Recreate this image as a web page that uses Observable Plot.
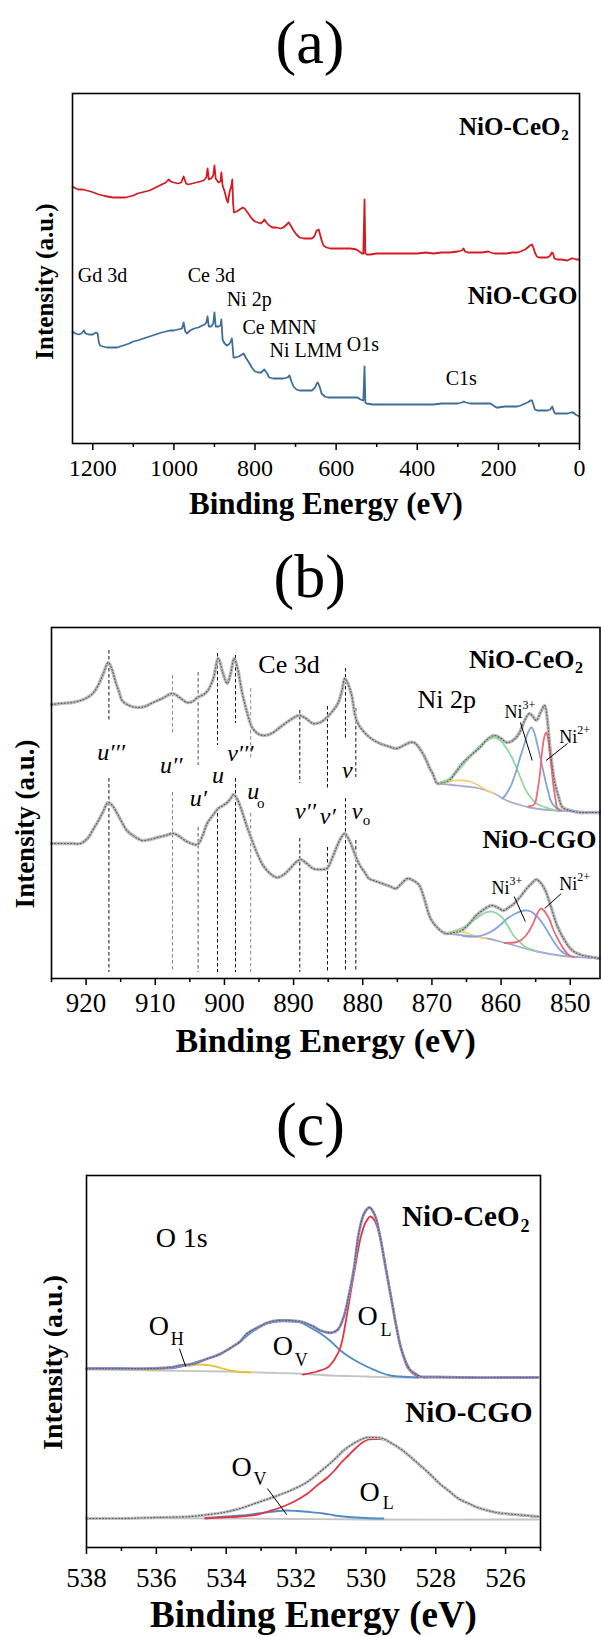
<!DOCTYPE html>
<html><head><meta charset="utf-8">
<script src="https://cdn.jsdelivr.net/npm/d3@7"></script>
<script src="https://cdn.jsdelivr.net/npm/@observablehq/plot@0.6"></script>
<style>
body{margin:0;background:#fff;}
#page{position:relative;width:601px;height:1637px;overflow:hidden;background:#fff;}
</style></head><body><div id="page"></div>
<script>
const SERIF = '"Liberation Serif","Times New Roman",serif';

// ================= (a) survey spectra =================
const surveyMajor = [1200, 1000, 800, 600, 400, 200, 0];
const surveyMinor = [1100, 900, 700, 500, 300, 100];
const surveyCeO2 = [[1250,257],[1242,255],[1235,254],[1225,254],[1215,253],[1205,252],[1198,251],[1185,249],[1175,248],[1164,247],[1150,246],[1132,246],[1120,246],[1110,247],[1100,248],[1090,250],[1080,251],[1070,252],[1060,253],[1050,255],[1040,257],[1030,259],[1020,261],[1013,264],[1008,262],[1000,261],[990,260],[982,261],[976,267],[970,260],[965,259],[955,260],[945,261],[935,262],[927,263],[920,266],[917,275],[914,264],[908,265],[903,268],[900,278],[897,265],[890,261],[885,262],[883,271],[880,258],[875,252],[870,244],[867,241],[863,251],[858,258],[856,264],[854,240],[852,231],[845,232],[838,234],[830,236],[826,235],[820,232],[815,229],[808,225],[800,222],[793,221],[786,220],[780,222],[777,224],[772,221],[765,218],[757,216],[747,216],[737,215],[730,216],[722,219],[717,221],[712,218],[705,213],[698,209],[690,206],[680,205],[670,205],[660,205],[654,207],[648,213],[643,214],[639,208],[635,202],[631,198],[624,196],[614,195],[600,195],[580,195],[565,195],[550,194],[543,192],[536,190],[533,190],[530,244],[528,190],[524,189],[515,189],[500,190],[483,190],[460,190],[440,190],[420,190],[400,190],[380,191],[360,190],[340,191],[320,191],[300,192],[290,193],[286,195],[282,192],[276,191],[260,191],[240,191],[225,192],[219,191],[210,190],[200,190],[180,190],[165,191],[153,191],[145,192],[140,193],[134,194],[128,196],[122,198],[117,199],[113,195],[110,191],[105,187],[100,186],[90,186],[79,186],[72,188],[68,191],[65,190],[62,185],[55,184],[45,184],[30,183],[20,185],[15,185],[8,184],[3,184],[0,184]];
const surveyCGO = [[1250,112],[1243,110],[1235,109],[1228,110],[1222,113],[1218,110],[1210,109],[1200,109],[1192,111],[1188,110],[1185,101],[1182,98],[1175,97],[1165,96],[1150,96],[1140,96],[1125,98],[1110,100],[1100,102],[1090,103],[1075,105],[1060,107],[1045,109],[1030,111],[1020,112],[1010,113],[1000,113],[990,114],[980,115],[976,121],[972,112],[968,110],[960,113],[950,115],[940,116],[930,118],[924,119],[920,121],[917,127],[914,117],[908,117],[903,120],[900,131],[897,117],[890,117],[885,118],[883,124],[880,104],[875,100],[869,98],[865,99],[861,101],[857,105],[855,96],[853,86],[848,86],[840,87],[832,89],[828,90],[823,86],[815,81],[808,76],[800,72],[792,71],[785,71],[777,74],[770,70],[765,66],[755,65],[740,65],[730,65],[720,66],[715,68],[710,62],[705,57],[698,54],[690,53],[675,53],[660,53],[652,56],[648,60],[645,61],[640,56],[636,50],[628,47],[620,46],[600,46],[580,46],[560,46],[547,46],[540,44],[533,43],[530,77],[528,41],[525,40],[510,39],[500,39],[480,39],[460,39],[440,39],[420,39],[400,39],[380,39],[360,39],[340,40],[320,40],[300,40],[290,41],[285,42],[280,41],[270,40],[250,40],[230,40],[220,40],[212,38],[205,36],[200,36],[185,37],[170,37],[153,37],[145,38],[140,39],[134,40],[128,41],[121,43],[117,43],[113,38],[110,34],[104,33],[90,33],[79,33],[72,34],[67,37],[63,32],[60,30],[50,30],[40,30],[30,30],[20,31],[15,31],[10,29],[5,28],[0,27]];
const surveyPeakLabels = [
  {t:"Gd 3d", e:1237, i:162}, {t:"Ce 3d", e:966, i:162}, {t:"Ni 2p", e:870, i:138},
  {t:"Ce MNN", e:831, i:110}, {t:"Ni LMM", e:764, i:87}, {t:"O1s", e:574, i:93}, {t:"C1s", e:330, i:59}
];
const surveySampleLabels = [{t:"NiO-CeO", e:47, i:309}, {t:"NiO-CGO", e:5, i:140}];
const surveySampleSubs = [{t:"2", e:45, i:304}];

// ================= (b) Ce 3d + Ni 2p =================
const ceMajor = [920, 910, 900, 890, 880, 870, 860, 850];
const ceMinor = [925, 915, 905, 895, 885, 875, 865, 855];
const ceCeO2 = [[925,274],[923.7,275],[922,276],[920.8,278],[919.8,281],[918.9,286],[918.2,294],[917.5,305],[916.8,316],[916.2,308],[915.8,298],[915.2,286],[914.8,278],[913.8,273],[912.6,271],[911.5,272],[910.3,276],[909,280],[907.5,285],[906.5,281],[905.4,276],[904.6,277],[903.9,281],[903,284],[902.4,288],[901.6,300],[900.9,320],[900.2,305],[899.6,295],[899.1,305],[898.6,320],[898.1,310],[897.5,288],[896.8,268],[896.0,251],[895.2,245],[894.4,243],[893.2,245],[892.0,251],[890.6,258],[889.2,263],[888.2,260],[887.2,255],[886.2,256],[885.2,261],[884.4,267],[883.6,275],[883.0,288],[882.6,300],[882.1,294],[881.6,283],[880.9,258],[880.0,248],[878.8,240],[877.5,235],[876.2,232],[875.1,230],[874.1,233],[873.2,236],[872.6,236],[872.1,233],[871.4,226],[870.8,218],[870.3,210],[869.9,205],[869.2,195],[868.4,196],[867.5,198],[866.6,206],[865.6,215],[864.4,223],[863.1,231],[862.0,239],[861.0,243],[860.0,240],[859.2,236],[858.3,238],[857.4,245],[856.6,258],[855.9,265],[855.4,262],[854.9,258],[854.3,266],[853.7,273],[853.3,258],[853.0,235],[852.6,212],[852.3,198],[851.7,182],[851.1,171],[850.0,168],[848.7,166],[847,166],[845.7,166]];
const ceCGO = [[925,135],[923.7,135],[922,135],[920.8,135],[919.8,140],[918.9,150],[918.2,158],[917.6,166],[916.8,176],[916.1,172],[915.5,165],[914.8,156],[914.1,148],[913,142],[911.9,138],[910.8,139],[909.7,141],[908.5,143],[907.4,145],[906.5,142],[905.7,138],[904.8,135],[903.9,134],[903.2,142],[902.5,155],[901.7,163],[900.9,170],[900.2,173],[899.6,176],[899.1,180],[898.7,184],[898.2,180],[897.5,168],[896.8,153],[896.0,138],[895.2,124],[894.4,113],[893.4,105],[892.4,101],[891.4,104],[890.5,110],[889.7,116],[889.0,119],[888.1,115],[887.2,110],[886.2,109],[885.2,110],[884.5,119],[883.8,131],[883.2,140],[882.6,145],[882.0,139],[881.5,131],[880.9,120],[880.4,113],[879.7,106],[879.1,100],[878,97],[876.8,94],[876,92],[875.2,90],[874.4,95],[873.5,100],[872.7,98],[871.9,94],[871.2,82],[870.2,60],[869.1,50],[868.0,45],[866.8,46],[865.7,48],[864.6,55],[863.6,63],[862.5,69],[861.4,73],[860.5,71],[859.7,68],[858.9,71],[858.1,75],[857.2,82],[856.3,90],[855.6,95],[854.9,99],[854.2,95],[853.6,88],[852.8,72],[851.9,53],[850.8,38],[849.7,28],[848.6,24],[847.5,22],[846.5,21],[845.7,20]];
const niBgCeO2 = [[869.2,195],[867,193.5],[865,192],[863.1,190],[861,185],[859.2,178],[857.5,174],[855.9,171],[854,169],[852,168],[849,167],[845.7,166]];
const niYellowCeO2 = [[869.2,195],[868,197],[866.8,198],[865.6,198],[864.5,197],[863.5,194],[862.5,190],[861.7,187],[861.0,185]];
const niGreenCeO2 = [[869.2,195],[868,198],[867,202],[865.8,211],[864.6,221],[863.6,229],[862.6,235],[861.8,239],[861.0,241],[860.1,238],[859.3,231],[858.5,222],[857.8,211],[857.1,199],[856.4,188],[855.6,180],[854.9,175],[854,172],[853,170],[851.6,167]];
const niBlueCeO2 = [[859.8,180],[859.3,184],[858.5,194],[857.8,208],[857.2,222],[856.6,235],[856.1,246],[855.6,251],[855.2,246],[854.8,235],[854.2,217],[853.7,201],[853.2,187],[852.7,176],[852.1,171],[851.6,168]];
const niRedCeO2 = [[856,172],[855.2,174],[854.8,185],[854.4,204],[854.1,225],[853.8,240],[853.5,246],[853.2,240],[853.0,228],[852.7,210],[852.4,191],[852.1,178],[851.9,171],[851.3,168]];
const niBgCGO = [[868,45],[866,43.5],[864,42],[862,40],[860.2,37],[858,33],[856.5,30],[854.8,27],[852.5,24],[850.3,22],[848,21],[845.8,20]];
const niYellowCGO = [[868,45],[867.2,46.5],[866.3,47],[865.5,46.5],[864.7,45],[863.8,42.5],[863,41],[862.2,40]];
const niGreenCGO = [[868,45],[867,47],[865.8,50],[864.7,54],[863.8,59],[863,63],[862.2,66],[861.4,67],[860.6,65],[859.7,60],[858.9,51],[858.1,42],[857.2,36],[856.4,31],[855.5,29],[854.8,27]];
const niBlueCGO = [[865.5,42.5],[864.1,42],[862.8,43],[861.4,47],[860.2,53],[859.1,60],[857.9,65],[856.6,68],[855.7,67],[854.8,62],[853.9,54],[853.1,45],[852.4,37],[851.4,28],[850.3,23],[849,21.5]];
const niRedCGO = [[859.5,35.5],[858,36],[857.2,38],[856.4,43],[855.5,53],[854.9,63],[854.5,68],[854.2,70],[853.8,68],[853.4,64],[853.0,59],[852.4,48],[851.6,37],[850.9,29],[850.3,24],[849.5,21.5]];
// dashed guide lines: energy, upper segment, lower segment, tone
const ceGuideEnergy = [916.7, 907.5, 903.8, 901.0, 898.4, 896.2, 889.1, 885.1, 882.5, 881.0];
const ceGuideUpper = [[328,258],[303,245],[306,213],[325,233],[323,255],[290,220],[268,195],[272,190],[310,240],[270,201]];
const ceGuideLower = [[200,6],[186,6],[151,6],[171,6],[200,6],[165,6],[140,6],[131,6],[180,6],[138,6]];
const ceGuideTone = ["#111","#888","#555","#111","#111","#888","#111","#111","#111","#111"];
const ceRegionLabels = [{t:"Ce 3d", e:895.1, i:306}, {t:"Ni 2p", e:872.1, i:271}];
const ceSampleLabels = [{t:"NiO-CeO", e:849.4, i:311}, {t:"NiO-CGO", e:846.2, i:131}];
const ceSampleSubs = [{t:"2", e:849.3, i:306}];
const cePeakLabels = [
  {t:"u′′′", e:918.4, i:219}, {t:"u′′", e:909.3, i:206}, {t:"u′", e:905.0, i:173}, {t:"u", e:901.8, i:196},
  {t:"v′′′", e:899.6, i:218}, {t:"u", e:896.7, i:180}, {t:"v′′", e:889.8, i:160}, {t:"v′", e:886.2, i:155},
  {t:"v", e:883.0, i:201}, {t:"v", e:881.6, i:160}
];
const cePeakSubs = [{t:"o", e:895.3, i:171}, {t:"o", e:880.0, i:154}];
const niLabels = [{t:"Ni", e:859.5, i:261}, {t:"Ni", e:851.6, i:236}, {t:"Ni", e:861.4, i:85}, {t:"Ni", e:851.6, i:89}];
const niCharges = [{t:"3+", e:856.9, i:270}, {t:"2+", e:849.0, i:245}, {t:"3+", e:858.8, i:94}, {t:"2+", e:849.0, i:98}];
const niLeaders = [{e1:857.2,i1:256,e2:855.5,i2:218},{e1:850.4,i1:235,e2:853.5,i2:218},{e1:858.1,i1:82,e2:856.5,i2:57},{e1:851.3,i1:85,e2:853.7,i2:70}];

// ================= (c) O 1s =================
const oMajor = [538, 536, 534, 532, 530, 528, 526];
const oMinor = [537, 535, 533, 531, 529, 527, 525];
const oCeO2Env = [[538,179],[537,179],[536.1,179],[535.6,180],[535.3,182],[534.9,184],[534.6,188],[534.2,193],[533.9,199],[533.6,206],[533.4,214],[533.1,220],[532.8,225],[532.5,227],[532.2,227],[531.9,226],[531.7,224],[531.5,221],[531.3,217],[531.1,215],[530.95,215],[530.8,218],[530.64,230],[530.5,250],[530.35,277],[530.2,315],[530.05,334],[529.9,340],[529.75,333],[529.6,312],[529.45,283],[529.3,254],[529.15,225],[529.0,200],[528.85,185],[528.72,177],[528.55,173],[528.44,171],[528,170.5],[527,170],[526,170],[525.06,170]];
const oCeO2L = [[531.8,173],[531.4,176],[531.1,180],[530.9,188],[530.73,200],[530.58,225],[530.44,254],[530.3,282],[530.15,310],[530.01,325],[529.87,331],[529.75,327],[529.67,320],[529.52,298],[529.38,270],[529.23,242],[529.09,214],[528.95,194],[528.81,180],[528.65,174],[528.52,171],[528.3,170]];
const oCeO2V = [[535.6,179],[535.3,181],[534.9,185],[534.45,190],[534.1,195],[533.9,199],[533.6,206],[533.36,213],[533.1,219],[532.82,224],[532.5,226],[532.16,226],[531.87,225],[531.6,220],[531.3,214],[531.0,206],[530.73,197],[530.45,190],[530.15,184],[529.85,179],[529.58,175],[529.3,172],[529.01,171],[528.5,170]];
const oCeO2H = [[536.3,177.5],[535.8,178.5],[535.4,180.5],[535.0,182],[534.8,183],[534.55,182.5],[534.3,181],[534.1,179],[533.9,177],[533.6,175.5],[533.3,175]];
const oCeO2Base = [[538,178],[536,177],[534,176],[533,175],[532,174],[531,172],[530,171],[529,170],[528,170],[525.06,170]];
const oCGOEnv = [[538,29],[537,29],[536,30],[535.02,31],[534.5,33],[534.08,35],[533.6,39],[533.1,45],[532.6,51],[532.16,57],[531.7,65],[531.2,79],[530.9,88],[530.64,97],[530.4,103],[530.2,107],[529.98,110],[529.75,110],[529.52,109],[529.25,104],[528.98,98],[528.7,90],[528.44,82],[528.15,73],[527.89,64],[527.6,56],[527.35,49],[527.05,44],[526.8,40],[526.5,37],[526.26,35],[525.71,33],[525.06,31]];
const oCGOL = [[534.6,29],[534.16,30],[533.6,31],[533.1,33],[532.8,36],[532.44,40],[532.05,46],[531.67,54],[531.4,62],[531.1,70],[530.9,77],[530.73,84],[530.5,92],[530.3,99],[530.1,105],[529.92,108],[529.7,108.5],[529.5,108],[529.25,103.5],[528.98,97.5],[528.7,89.5],[528.44,81.5],[528.15,72.5],[527.89,63.5],[527.6,55.5],[527.35,48.5],[527.05,43.5],[526.8,39.5],[526.5,36.5],[526.26,34.5],[525.71,32.5],[525.06,30.5]];
const oCGOV = [[534.6,29.5],[534.0,31],[533.59,32],[533.1,34],[532.64,36],[532.3,37],[531.96,36.5],[531.6,35.5],[531.21,34],[530.9,32],[530.5,30.5],[530.0,29.5],[529.5,29]];
const oCGOBase = [[538,29],[534,29],[532,28.5],[530,28],[525.06,28]];
const oRegionLabels = [{t:"O 1s", e:536.02, i:301}];
const oSampleLabels = [{t:"NiO-CeO", e:525.6, i:322}, {t:"NiO-CGO", e:525.23, i:126}];
const oSampleSubs = [{t:"2", e:525.57, i:316}];
const oLetters = [{t:"O", e:536.22, i:213}, {t:"O", e:532.67, i:193}, {t:"O", e:530.24, i:223}, {t:"O", e:533.85, i:72}, {t:"O", e:530.18, i:47}];
const oLetterSubs = [{t:"H", e:535.59, i:203}, {t:"V", e:532.04, i:182}, {t:"L", e:529.58, i:212}, {t:"V", e:533.22, i:63}, {t:"L", e:529.52, i:39}];
const oLeaders = [{e1:535.34,i1:199,e2:535.16,i2:181},{e1:532.82,i1:59,e2:532.27,i2:33}];

// ================= helpers =================
const xy = {x: d => d[0], y: d => d[1]};
function txt(data, o) {
  return Plot.text(data, {x: "e", y: "i", text: "t", fill: "black", fontFamily: SERIF, lineAnchor: "bottom", textAnchor: "start", ...o});
}
function axes(major, minor, fs, pad) {
  return [
    Plot.axisX({ticks: major, tickSize: 7, tickPadding: pad, fontSize: fs, strokeWidth: 1.5, tickFormat: d => `${d}`, label: null, fontFamily: SERIF, fill: "black", stroke: "black"}),
    Plot.axisX({ticks: minor, tickSize: 4, strokeWidth: 1.5, tickFormat: () => "", label: null, stroke: "black"})
  ];
}
function letterMark(letter, dx) {
  return Plot.text([letter], {frameAnchor: "top", text: d => d, dy: -31, dx, fontSize: 62, fontFamily: SERIF, lineAnchor: "bottom", textAnchor: "middle", fill: "black"});
}
function common(title, titleDy, titleFs, yDx, yDy, yFs) {
  return [
    Plot.frame({stroke: "black", strokeWidth: 1.6}),
    Plot.text([title], {frameAnchor: "bottom", text: d => d, dy: titleDy, fontSize: titleFs, fontWeight: "bold", fontFamily: SERIF, lineAnchor: "bottom", textAnchor: "middle", fill: "black"}),
    Plot.text(["Intensity (a.u.)"], {frameAnchor: "left", text: d => d, rotate: -90, dx: yDx, dy: yDy, fontSize: yFs, fontWeight: "bold", fontFamily: SERIF, lineAnchor: "middle", textAnchor: "middle", fill: "black"})
  ];
}
const style = {fontFamily: SERIF, background: "transparent", color: "black", overflow: "visible"};
const GRAY = "#bcbcbc", DOT = "#5a5a5a";
function comp(data, color, w = 1.8) {
  return Plot.line(data, {...xy, stroke: color, strokeWidth: w, curve: "catmull-rom"});
}
function dots(data) {
  return Plot.line(data, {...xy, stroke: DOT, strokeWidth: 1.1, strokeDasharray: "1,2.2", curve: "catmull-rom"});
}

// ================= panel (a) =================
const panelA = Plot.plot({
  width: 601, height: 540, marginTop: 93, marginBottom: 97, marginLeft: 72, marginRight: 22,
  style,
  x: {domain: [1250, 0]},
  y: {domain: [0, 350], axis: null},
  marks: [
    ...axes(surveyMajor, surveyMinor, 24, 8),
    Plot.line(surveyCeO2, {...xy, stroke: "#d61a22", strokeWidth: 1.8}),
    Plot.line(surveyCGO, {...xy, stroke: "#3e6d99", strokeWidth: 1.8}),
    txt(surveyPeakLabels, {fontSize: 20}),
    txt(surveySampleLabels, {fontSize: 25, fontWeight: "bold", textAnchor: "end"}),
    txt(surveySampleSubs, {fontSize: 15, fontWeight: "bold"}),
    letterMark("(a)", -16),
    ...common("Binding Energy (eV)", 70, 31, -28, 13, 25)
  ]
});

// ================= panel (b) =================
const panelB = Plot.plot({
  width: 601, height: 520, marginTop: 87, marginBottom: 82, marginLeft: 51, marginRight: 1.5,
  style,
  x: {domain: [925, 845.7]},
  y: {domain: [0, 351], axis: null},
  marks: [
    ...axes(ceMajor, ceMinor, 27, 7),
    Plot.ruleX(ceGuideEnergy, {x: d => d, y1: (d, i) => ceGuideUpper[i][0], y2: (d, i) => ceGuideUpper[i][1], stroke: (d, i) => ceGuideTone[i], strokeWidth: 1, strokeDasharray: "3.5,2.5"}),
    Plot.ruleX(ceGuideEnergy, {x: d => d, y1: (d, i) => ceGuideLower[i][0], y2: (d, i) => ceGuideLower[i][1], stroke: (d, i) => ceGuideTone[i], strokeWidth: 1, strokeDasharray: "3.5,2.5"}),
    comp(ceCeO2, GRAY, 3.4),
    comp(ceCGO, GRAY, 3.4),
    comp(niBgCeO2, "#a9a9d2"), comp(niYellowCeO2, "#f1d27a"), comp(niGreenCeO2, "#96d4a2"), comp(niBlueCeO2, "#82a6da"), comp(niRedCeO2, "#ea6c78"),
    comp(niBgCGO, "#a9a9d2"), comp(niYellowCGO, "#f1d27a"), comp(niGreenCGO, "#96d4a2"), comp(niBlueCGO, "#82a6da"), comp(niRedCGO, "#ea6c78"),
    dots(ceCeO2),
    dots(ceCGO),
    Plot.link(niLeaders, {x1: "e1", y1: "i1", x2: "e2", y2: "i2", stroke: "black", strokeWidth: 1}),
    txt(ceRegionLabels, {fontSize: 26}),
    txt(ceSampleLabels, {fontSize: 26, fontWeight: "bold", textAnchor: "end"}),
    txt(ceSampleSubs, {fontSize: 16, fontWeight: "bold"}),
    txt(cePeakLabels, {fontSize: 24, fontStyle: "italic"}),
    txt(cePeakSubs, {fontSize: 15}),
    txt(niLabels, {fontSize: 18}),
    txt(niCharges, {fontSize: 12}),
    letterMark("(b)", -16),
    ...common("Binding Energy (eV)", 73, 34, -26, 21, 27)
  ]
});

// ================= panel (c) =================
const panelC = Plot.plot({
  width: 601, height: 577, marginTop: 115, marginBottom: 90, marginLeft: 86, marginRight: 61,
  style,
  x: {domain: [538, 525]},
  y: {domain: [0, 372], axis: null},
  marks: [
    ...axes(oMajor, oMinor, 27, 13),
    comp(oCeO2Base, "#c4c4c4"),
    comp(oCeO2H, "#e9c23c"),
    comp(oCeO2V, "#4f8cc6"),
    comp(oCeO2L, "#e53540"),
    comp(oCeO2Env, "#9191c6", 2.8),
    dots(oCeO2Env),
    comp(oCGOBase, "#c4c4c4"),
    comp(oCGOV, "#4f8cc6"),
    comp(oCGOL, "#e53540"),
    comp(oCGOEnv, "#c2c2c2", 3),
    dots(oCGOEnv),
    Plot.link(oLeaders, {x1: "e1", y1: "i1", x2: "e2", y2: "i2", stroke: "black", strokeWidth: 1}),
    txt(oRegionLabels, {fontSize: 28}),
    txt(oSampleLabels, {fontSize: 29, fontWeight: "bold", textAnchor: "end"}),
    txt(oSampleSubs, {fontSize: 18, fontWeight: "bold"}),
    txt(oLetters, {fontSize: 28}),
    txt(oLetterSubs, {fontSize: 18}),
    letterMark("(c)", -3),
    ...common("Binding Energy (eV)", 79, 37, -33, 1, 28)
  ]
});

const page = document.getElementById("page");
[[panelA, 0], [panelB, 540], [panelC, 1060]].forEach(([svg, top]) => {
  svg.style.position = "absolute";
  svg.style.left = "0px";
  svg.style.top = top + "px";
  page.appendChild(svg);
});
</script>
</body></html>
